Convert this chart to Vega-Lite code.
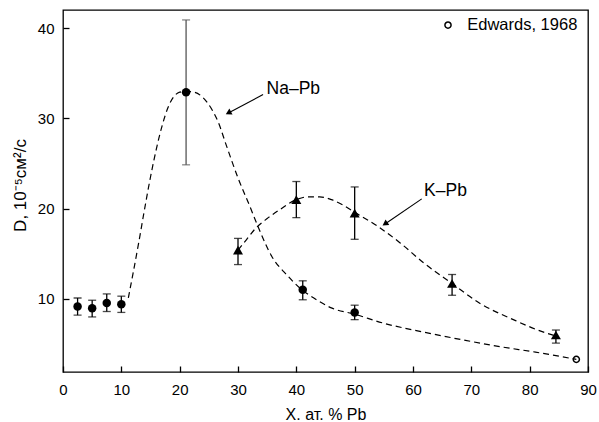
{
  "$schema": "https://vega.github.io/schema/vega-lite/v6.json",
  "width": 525,
  "height": 362,
  "autosize": {"type": "none"},
  "padding": {"left": 63, "top": 10, "right": 11, "bottom": 50},
  "config": {
    "font": "Liberation Sans",
    "view": {"stroke": "black", "strokeWidth": 1.3},
    "axis": {"grid": false, "domain": false, "tickColor": "black", "tickSize": 6, "offset": -6, "tickWidth": 1.3,
      "labelFlush": false, "labelOverlap": false,
      "labelColor": "black", "labelFontSize": 15, "titleColor": "black", "titleFontSize": 16, "titleFontWeight": "normal"}
  },
  "datasets": {
    "points": [
      {"series": "Na–Pb", "x": 2.5, "y": 9.15, "lo": 8.2, "hi": 10.1},
      {"series": "Na–Pb", "x": 5, "y": 8.95, "lo": 8.0, "hi": 9.85},
      {"series": "Na–Pb", "x": 7.5, "y": 9.55, "lo": 8.6, "hi": 10.55},
      {"series": "Na–Pb", "x": 10, "y": 9.4, "lo": 8.5, "hi": 10.3},
      {"series": "Na–Pb", "x": 21.1, "y": 32.9, "lo": 24.85, "hi": 40.9},
      {"series": "Na–Pb", "x": 41.1, "y": 11.0, "lo": 9.9, "hi": 12.0},
      {"series": "Na–Pb", "x": 50, "y": 8.5, "lo": 7.7, "hi": 9.3},
      {"series": "K–Pb", "x": 30, "y": 15.4, "lo": 13.8, "hi": 16.7},
      {"series": "K–Pb", "x": 40, "y": 21.0, "lo": 19.0, "hi": 23.0},
      {"series": "K–Pb", "x": 50, "y": 19.5, "lo": 16.6, "hi": 22.4},
      {"series": "K–Pb", "x": 66.7, "y": 11.7, "lo": 10.4, "hi": 12.7},
      {"series": "K–Pb", "x": 84.5, "y": 6.0, "lo": 5.1, "hi": 6.55}
    ],
    "curves": [
      {"series": "Na–Pb", "x": 11.2, "y": 10.1},
      {"series": "Na–Pb", "x": 12, "y": 12.8},
      {"series": "Na–Pb", "x": 13, "y": 16.3},
      {"series": "Na–Pb", "x": 14, "y": 20.0},
      {"series": "Na–Pb", "x": 15, "y": 23.5},
      {"series": "Na–Pb", "x": 16, "y": 26.6},
      {"series": "Na–Pb", "x": 17, "y": 29.2},
      {"series": "Na–Pb", "x": 18, "y": 31.2},
      {"series": "Na–Pb", "x": 19, "y": 32.4},
      {"series": "Na–Pb", "x": 20, "y": 32.9},
      {"series": "Na–Pb", "x": 21.1, "y": 33.0},
      {"series": "Na–Pb", "x": 22.5, "y": 32.9},
      {"series": "Na–Pb", "x": 24, "y": 32.3},
      {"series": "Na–Pb", "x": 25.5, "y": 31.0},
      {"series": "Na–Pb", "x": 26.6, "y": 29.6},
      {"series": "Na–Pb", "x": 28, "y": 27.0},
      {"series": "Na–Pb", "x": 30, "y": 23.4},
      {"series": "Na–Pb", "x": 32, "y": 20.3},
      {"series": "Na–Pb", "x": 33.5, "y": 17.9},
      {"series": "Na–Pb", "x": 35.8, "y": 14.7},
      {"series": "Na–Pb", "x": 38.6, "y": 12.5},
      {"series": "Na–Pb", "x": 40.6, "y": 11.2},
      {"series": "Na–Pb", "x": 43, "y": 10.1},
      {"series": "Na–Pb", "x": 46, "y": 9.0},
      {"series": "Na–Pb", "x": 50, "y": 8.3},
      {"series": "Na–Pb", "x": 55, "y": 7.3},
      {"series": "Na–Pb", "x": 62, "y": 6.3},
      {"series": "Na–Pb", "x": 69, "y": 5.4},
      {"series": "Na–Pb", "x": 75, "y": 4.7},
      {"series": "Na–Pb", "x": 81, "y": 4.1},
      {"series": "Na–Pb", "x": 88, "y": 3.3},
      {"series": "K–Pb", "x": 30, "y": 15.4},
      {"series": "K–Pb", "x": 31.5, "y": 16.6},
      {"series": "K–Pb", "x": 33, "y": 17.8},
      {"series": "K–Pb", "x": 35, "y": 18.9},
      {"series": "K–Pb", "x": 37.2, "y": 19.9},
      {"series": "K–Pb", "x": 40, "y": 21.0},
      {"series": "K–Pb", "x": 42, "y": 21.3},
      {"series": "K–Pb", "x": 44, "y": 21.3},
      {"series": "K–Pb", "x": 46, "y": 21.0},
      {"series": "K–Pb", "x": 48, "y": 20.4},
      {"series": "K–Pb", "x": 50, "y": 19.6},
      {"series": "K–Pb", "x": 53.8, "y": 18.1},
      {"series": "K–Pb", "x": 57.8, "y": 16.2},
      {"series": "K–Pb", "x": 61.8, "y": 14.0},
      {"series": "K–Pb", "x": 66.7, "y": 11.7},
      {"series": "K–Pb", "x": 71.5, "y": 9.5},
      {"series": "K–Pb", "x": 77.2, "y": 7.7},
      {"series": "K–Pb", "x": 82.9, "y": 6.2},
      {"series": "K–Pb", "x": 84.5, "y": 5.9}
    ],
    "labels": [
      {"label": "Na–Pb", "x": 34.9, "y": 33.2},
      {"label": "K–Pb", "x": 61.9, "y": 21.9},
      {"label": "Edwards, 1968", "x": 69.3, "y": 40.33}
    ],
    "edwards": [
      {"x": 88, "y": 3.3},
      {"x": 66, "y": 40.33}
    ],
    "arrows": [
      {"label": "Na–Pb", "x": 34.3, "y": 32.63, "hx": 28.35, "hy": 30.6},
      {"label": "K–Pb", "x": 61.5, "y": 21.08, "hx": 55.2, "hy": 18.3}
    ]
  },
  "layer": [
    {
      "data": {"name": "curves"},
      "mark": {"type": "line", "interpolate": "monotone", "color": "black", "strokeWidth": 1.2, "strokeDash": [6, 4]},
      "encoding": {
        "x": {"field": "x", "type": "quantitative", "scale": {"domain": [0, 90], "nice": false},
          "axis": {"values": [0, 10, 20, 30, 40, 50, 60, 70, 80, 90], "title": "X. ат. % Pb", "titleY": 53, "titleBaseline": "alphabetic", "labelPadding": 10}},
        "y": {"field": "y", "type": "quantitative", "scale": {"domain": [1.9, 42], "nice": false, "zero": false},
          "axis": {"values": [10, 20, 30, 40], "title": "D, 10⁻⁵см²/с", "labelPadding": 9, "titleX": -40, "titleY": 175, "titleFontSize": 17}},
        "detail": {"field": "series"}
      }
    },
    {
      "data": {"name": "points"},
      "mark": {"type": "rule", "strokeWidth": 1.3},
      "encoding": {
        "x": {"field": "x", "type": "quantitative"},
        "y": {"field": "lo", "type": "quantitative"},
        "y2": {"field": "hi"},
        "color": {"condition": {"test": "datum.y > 30", "value": "#555"}, "value": "black"}
      }
    },
    {
      "data": {"name": "points"},
      "mark": {"type": "tick", "orient": "horizontal", "size": 8, "thickness": 1.3},
      "encoding": {
        "x": {"field": "x", "type": "quantitative"},
        "y": {"field": "lo", "type": "quantitative"},
        "color": {"condition": {"test": "datum.y > 30", "value": "#555"}, "value": "black"}
      }
    },
    {
      "data": {"name": "points"},
      "mark": {"type": "tick", "orient": "horizontal", "size": 8, "thickness": 1.3},
      "encoding": {
        "x": {"field": "x", "type": "quantitative"},
        "y": {"field": "hi", "type": "quantitative"},
        "color": {"condition": {"test": "datum.y > 30", "value": "#555"}, "value": "black"}
      }
    },
    {
      "data": {"name": "points"},
      "mark": {"type": "point", "filled": true, "color": "black", "opacity": 1},
      "encoding": {
        "x": {"field": "x", "type": "quantitative"},
        "y": {"field": "y", "type": "quantitative"},
        "shape": {"field": "series", "type": "nominal", "scale": {"domain": ["Na–Pb", "K–Pb"], "range": ["circle", "triangle-up"]}, "legend": null},
        "size": {"field": "series", "type": "nominal", "scale": {"domain": ["Na–Pb", "K–Pb"], "range": [72, 100]}, "legend": null}
      }
    },
    {
      "data": {"name": "edwards"},
      "mark": {"type": "point", "shape": "circle", "filled": false, "color": "black", "size": 38, "strokeWidth": 1.5, "opacity": 1},
      "encoding": {
        "x": {"field": "x", "type": "quantitative"},
        "y": {"field": "y", "type": "quantitative"}
      }
    },
    {
      "data": {"name": "arrows"},
      "mark": {"type": "rule", "color": "black", "strokeWidth": 1.1},
      "encoding": {
        "x": {"field": "x", "type": "quantitative"},
        "y": {"field": "y", "type": "quantitative"},
        "x2": {"field": "hx"},
        "y2": {"field": "hy"}
      }
    },
    {
      "data": {"name": "arrows"},
      "mark": {"type": "point", "shape": "triangle-up", "filled": true, "color": "black", "size": 45, "opacity": 1},
      "encoding": {
        "x": {"field": "hx", "type": "quantitative"},
        "y": {"field": "hy", "type": "quantitative"},
        "angle": {"field": "label", "type": "nominal", "scale": {"domain": ["Na–Pb", "K–Pb"], "range": [242, 236]}, "legend": null}
      }
    },
    {
      "data": {"name": "labels"},
      "mark": {"type": "text", "align": "left", "baseline": "middle", "fontSize": 17, "color": "black"},
      "encoding": {
        "x": {"field": "x", "type": "quantitative"},
        "y": {"field": "y", "type": "quantitative"},
        "text": {"field": "label"},
        "size": {"condition": {"test": "datum.label == 'Edwards, 1968'", "value": 16.5}, "value": 17.5}
      }
    }
  ]
}
